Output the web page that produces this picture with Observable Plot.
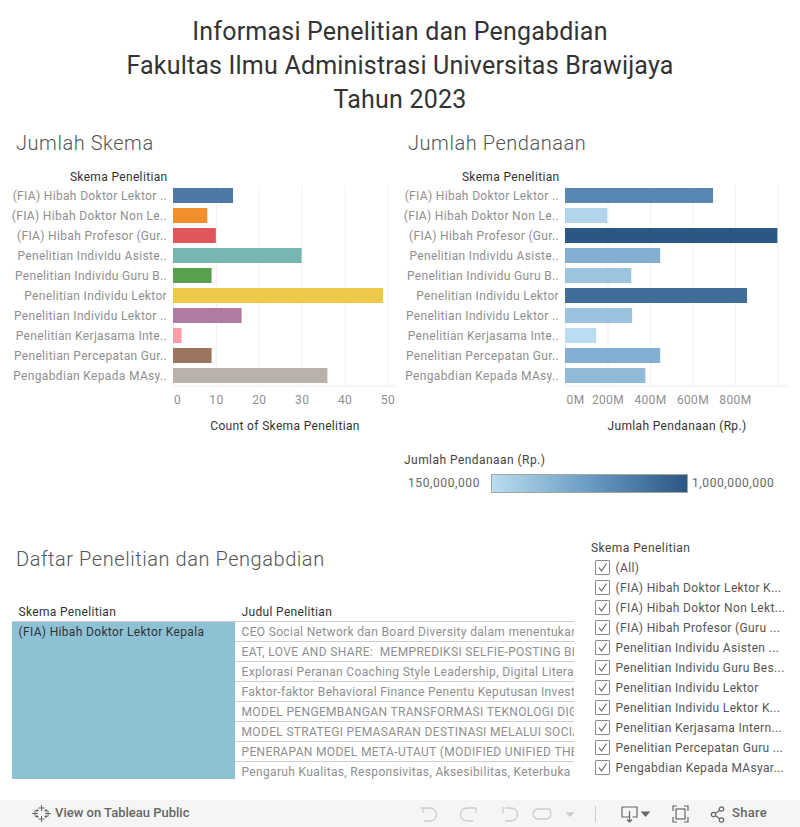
<!DOCTYPE html>
<html><head><meta charset="utf-8">
<script src="https://cdn.jsdelivr.net/npm/d3@7"></script>
<script src="https://cdn.jsdelivr.net/npm/@observablehq/plot@0.6"></script>
<style>
html,body{margin:0;padding:0;background:#fff;width:800px;height:827px;overflow:hidden}
body{position:relative;font-family:Roboto,"Noto Sans",sans-serif}
.abs{position:absolute;white-space:pre}
#title{left:0;top:15px;width:800px;text-align:center;font-size:25px;line-height:34px;color:#333;letter-spacing:.2px}
.sec{font-size:20px;line-height:26px;color:#555;letter-spacing:.55px;font-weight:300}
.plot{position:absolute}
.plot svg{display:block;overflow:visible;background:transparent}
.lbl{font-size:12px;color:#444;letter-spacing:.45px}
.num{font-size:12px;color:#666;letter-spacing:.6px}
.fl{font-size:12px;color:#555;letter-spacing:.35px;left:615.5px;line-height:16px}
.cb{position:absolute;left:595px;width:13px;height:13px;border:1px solid #8a8a8a;background:#fff;border-radius:1px}
#bar{left:0;top:800px;width:800px;height:27px;background:#f5f5f5}
</style></head><body>
<script>
const skema=["(FIA) Hibah Doktor Lektor ..","(FIA) Hibah Doktor Non Le..","(FIA) Hibah Profesor (Gur..","Penelitian Individu Asiste..","Penelitian Individu Guru B..","Penelitian Individu Lektor","Penelitian Individu Lektor ..","Penelitian Kerjasama Inte..","Penelitian Percepatan Gur..","Pengabdian Kepada MAsy.."];
const jumlah=[14,8,10,30,9,49,16,2,9,36];
const warna=["#4e79a7","#f28e2b","#e15759","#76b7b2","#59a14f","#edc948","#b07aa1","#ff9da7","#9c755f","#bab0ac"];
const dana=[697e6,199e6,1000e6,448e6,312e6,857e6,316e6,147e6,448e6,378e6];
const danaRange=["#b9ddf1","#6a9bc3","#2a5783"];
const danaDomain=[150e6,575e6,1000e6];
const judul=["CEO Social Network dan Board Diversity dalam menentukan","EAT, LOVE AND SHARE:  MEMPREDIKSI SELFIE-POSTING BE","Explorasi Peranan Coaching Style Leadership, Digital Litera","Faktor-faktor Behavioral Finance Penentu Keputusan Invest","MODEL PENGEMBANGAN TRANSFORMASI TEKNOLOGI DIGI","MODEL STRATEGI PEMASARAN DESTINASI MELALUI SOCIAL","PENERAPAN MODEL META-UTAUT (MODIFIED UNIFIED THE","Pengaruh Kualitas, Responsivitas, Aksesibilitas, Keterbuka"];
const skemaTabel="(FIA) Hibah Doktor Lektor Kepala";
const filterItems=["(All)","(FIA) Hibah Doktor Lektor K...","(FIA) Hibah Doktor Non Lekt...","(FIA) Hibah Profesor (Guru ...","Penelitian Individu Asisten ...","Penelitian Individu Guru Bes...","Penelitian Individu Lektor","Penelitian Individu Lektor K...","Penelitian Kerjasama Intern...","Penelitian Percepatan Guru ...","Pengabdian Kepada MAsyar..."];

const FONT='Roboto,"Noto Sans",sans-serif';
const LS=".34px";
function add(tag,cls,style,text){const e=document.createElement(tag);e.className=cls;Object.assign(e.style,style||{});if(text!=null)e.textContent=text;document.body.appendChild(e);return e;}
function place(node,left,top){const d=add("div","plot",{left:left+"px",top:top+"px"});d.appendChild(node);}

const t=add("div","abs",{},"Informasi Penelitian dan Pengabdian\nFakultas Ilmu Administrasi Universitas Brawijaya\nTahun 2023");t.id="title";
add("div","abs sec",{left:"16px",top:"130px"},"Jumlah Skema");
add("div","abs sec",{left:"408px",top:"130px"},"Jumlah Pendanaan");
add("div","abs sec",{left:"16px",top:"546px"},"Daftar Penelitian dan Pengabdian");

function barChart({values,fill,color,xDomain,ticks,fmt,zeroDx,axisTitle}){
  const rows=skema.map((s,i)=>({s,v:values[i],f:fill(i)}));
  return Plot.plot({
    width:400,height:280,marginLeft:173,marginRight:4,marginTop:25.5,marginBottom:54.5,
    style:{fontFamily:FONT,background:"transparent",letterSpacing:LS},
    x:{domain:xDomain,axis:null},
    y:{domain:skema,paddingInner:.25,paddingOuter:.125,axis:null},
    color:color,
    marks:[
      Plot.ruleX(ticks,{stroke:"#f0f0f0"}),
      Plot.ruleY([skema[skema.length-1]],{dy:10,stroke:"#eeeeee"}),
      Plot.barX(rows,{x:"v",y:"s",fill:"f"}),
      Plot.axisY({tickSize:0,tickPadding:6.5,anchor:"left",label:null,fontSize:12,fill:"#8f8f8f",dy:.5}),
      Plot.axisX({ticks:ticks.slice(1),tickFormat:fmt,tickSize:0,tickPadding:9,label:null,fontSize:12,fill:"#8f8f8f",anchor:"bottom"}),
      Plot.axisX({ticks:[0],tickFormat:fmt,tickSize:0,tickPadding:9,label:null,fontSize:12,fill:"#8f8f8f",anchor:"bottom",dx:zeroDx}),
      Plot.text(["Skema Penelitian"],{text:d=>d,frameAnchor:"top-left",textAnchor:"end",dx:-6,dy:-13.5,fontSize:12,fill:"#333"}),
      Plot.text([axisTitle],{text:d=>d,frameAnchor:"bottom",dy:44,fontSize:12,fill:"#333",lineAnchor:"bottom"})
    ]
  });
}
place(barChart({values:jumlah,fill:i=>warna[i],color:{type:"identity"},xDomain:[0,52],ticks:[0,10,20,30,40,50],fmt:d=>String(d),zeroDx:4,axisTitle:"Count of Skema Penelitian"}),0,160);

place(barChart({values:dana,fill:i=>dana[i],color:{type:"linear",domain:danaDomain,range:danaRange,interpolate:"rgb"},xDomain:[0,1050e6],ticks:[0,200e6,400e6,600e6,800e6,1000e6],fmt:d=>d>=1e9?"":(d/1e6)+"M",zeroDx:10,axisTitle:"Jumlah Pendanaan (Rp.)"}),392,160);

/* colour legend */
add("div","abs lbl",{left:"404px",top:"453px"},"Jumlah Pendanaan (Rp.)");
add("div","abs num",{left:"408px",top:"476px"},d3.format(",")(danaDomain[0]));
add("div","abs num",{left:"692px",top:"476px"},d3.format(",")(danaDomain[2]));
add("div","abs",{left:"491px",top:"474px",width:"195px",height:"17px",border:"1px solid #a8a498",background:"linear-gradient(to right,"+danaRange.join(",")+")"});

/* table */
const cols=[0,223,562];
place(Plot.plot({
  width:800,height:179,marginLeft:12,marginRight:226,marginTop:0,marginBottom:0,
  style:{fontFamily:FONT,background:"transparent",letterSpacing:LS},
  x:{domain:[cols[0],cols[2]],axis:null},
  y:{domain:judul,range:[21,181],padding:0,axis:null},
  marks:[
    Plot.barX(judul,{y:d=>d,x1:cols[0],x2:cols[1],fill:"#8cc2d3",clip:"frame"}),
    Plot.ruleY(judul,{y:d=>d,dy:-10,x1:cols[1],x2:cols[2],stroke:"#cfcfcf"}),
    Plot.ruleY(judul.slice(0,1),{y:d=>d,dy:-10,x1:cols[0],x2:cols[2],stroke:"#cfcfcf"}),
    Plot.text(judul.slice(0,1),{y:d=>d,x:cols[0],dx:6,dy:1,text:()=>skemaTabel,textAnchor:"start",fontSize:12,fill:"#333"}),
    Plot.text(judul,{y:d=>d,x:cols[1],dx:6,dy:1,text:d=>d,textAnchor:"start",fontSize:12,fill:"#8f8f8f",clip:"frame",letterSpacing:".27px"}),
    Plot.text(["Skema Penelitian"],{x:cols[0],dx:6,frameAnchor:"top",dy:7,text:d=>d,textAnchor:"start",fontSize:12,fill:"#333"}),
    Plot.text(["Judul Penelitian"],{x:cols[1],dx:6,frameAnchor:"top",dy:7,text:d=>d,textAnchor:"start",fontSize:12,fill:"#333"})
  ]
}),0,600);

/* filter */
add("div","abs lbl",{left:"591px",top:"541px"},"Skema Penelitian");
filterItems.forEach((f,i)=>{
  const y=567.5+20*i;
  const b=add("div","cb",{top:(y-7.5)+"px"});
  b.innerHTML='<svg width="13" height="13" viewBox="0 0 13 13" style="display:block"><path d="M3 6.5 L5.5 10 L10.5 2.5" fill="none" stroke="#666" stroke-width="1.2"/></svg>';
  add("div","abs fl",{top:(y-7.5)+"px"},f);
});

/* toolbar */
const bar=add("div","abs",{});bar.id="bar";
add("div","abs",{left:"55px",top:"805px",fontSize:"13px",fontWeight:"500",color:"#666",lineHeight:"16px",letterSpacing:"0"},"View on Tableau Public");
add("div","abs",{left:"732px",top:"805px",fontSize:"13px",fontWeight:"500",color:"#666",lineHeight:"16px",letterSpacing:".3px"},"Share");
const ic=document.createElementNS("http://www.w3.org/2000/svg","svg");
ic.setAttribute("width",800);ic.setAttribute("height",27);
ic.style.cssText="position:absolute;left:0;top:800px";
ic.innerHTML=`
<g stroke="#666" fill="none" stroke-width="1">
 <path d="M41.5 5v6M38.5 8h6M41.5 16v6M38.5 19h6M35 10.5v6M32 13.5h6M48 10.5v6M45 13.5h6M37 9v3M35.5 10.5h3M46 9v3M44.5 10.5h3M37 15v3M35.5 16.5h3M46 15v3M44.5 16.5h3"/>
</g>
<g stroke="#ccc" fill="none" stroke-width="1.3">
 <path d="M423 8h-2.5M423 8v5M421 8h9a6.5 6.5 0 0 1 0 13h-6"/>
 <path d="M476 8h-9a6.5 6.5 0 0 0 0 13h6M476 8v5"/>
 <path d="M503 7v6M505 8h6a6.5 6.5 0 0 1 0 13h-6"/>
 <path d="M541 9h9v2M550 9h-12a5 5 0 0 0 0 10h8a5 5 0 0 0 4-8"/>
 <path d="M567 13l3 3 3-3z" fill="#ccc"/>
</g>
<path d="M595.5 6v16" stroke="#ccc"/>
<g stroke="#666" fill="none" stroke-width="1.2">
 <path d="M622 7h15v10h-4.5M629 17h-7V7M629.5 11v11M627 19.5l2.5 2.5 2.5-2.5"/>
 <path d="M642 12l3.5 4 3.5-4z" fill="#666"/>
 <path d="M673 11V6h4M684 6h4v5M688 17v5h-4M677 22h-4v-5"/><rect x="676" y="9" width="9" height="10"/>
 <circle cx="713.5" cy="14.5" r="2.2"/><circle cx="721.5" cy="9" r="2.2"/><circle cx="721.5" cy="20" r="2.2"/>
 <path d="M715.5 13.2l4.2-3M715.5 15.8l4.2 3"/>
</g>`;
document.body.appendChild(ic);
</script>
</body></html>
